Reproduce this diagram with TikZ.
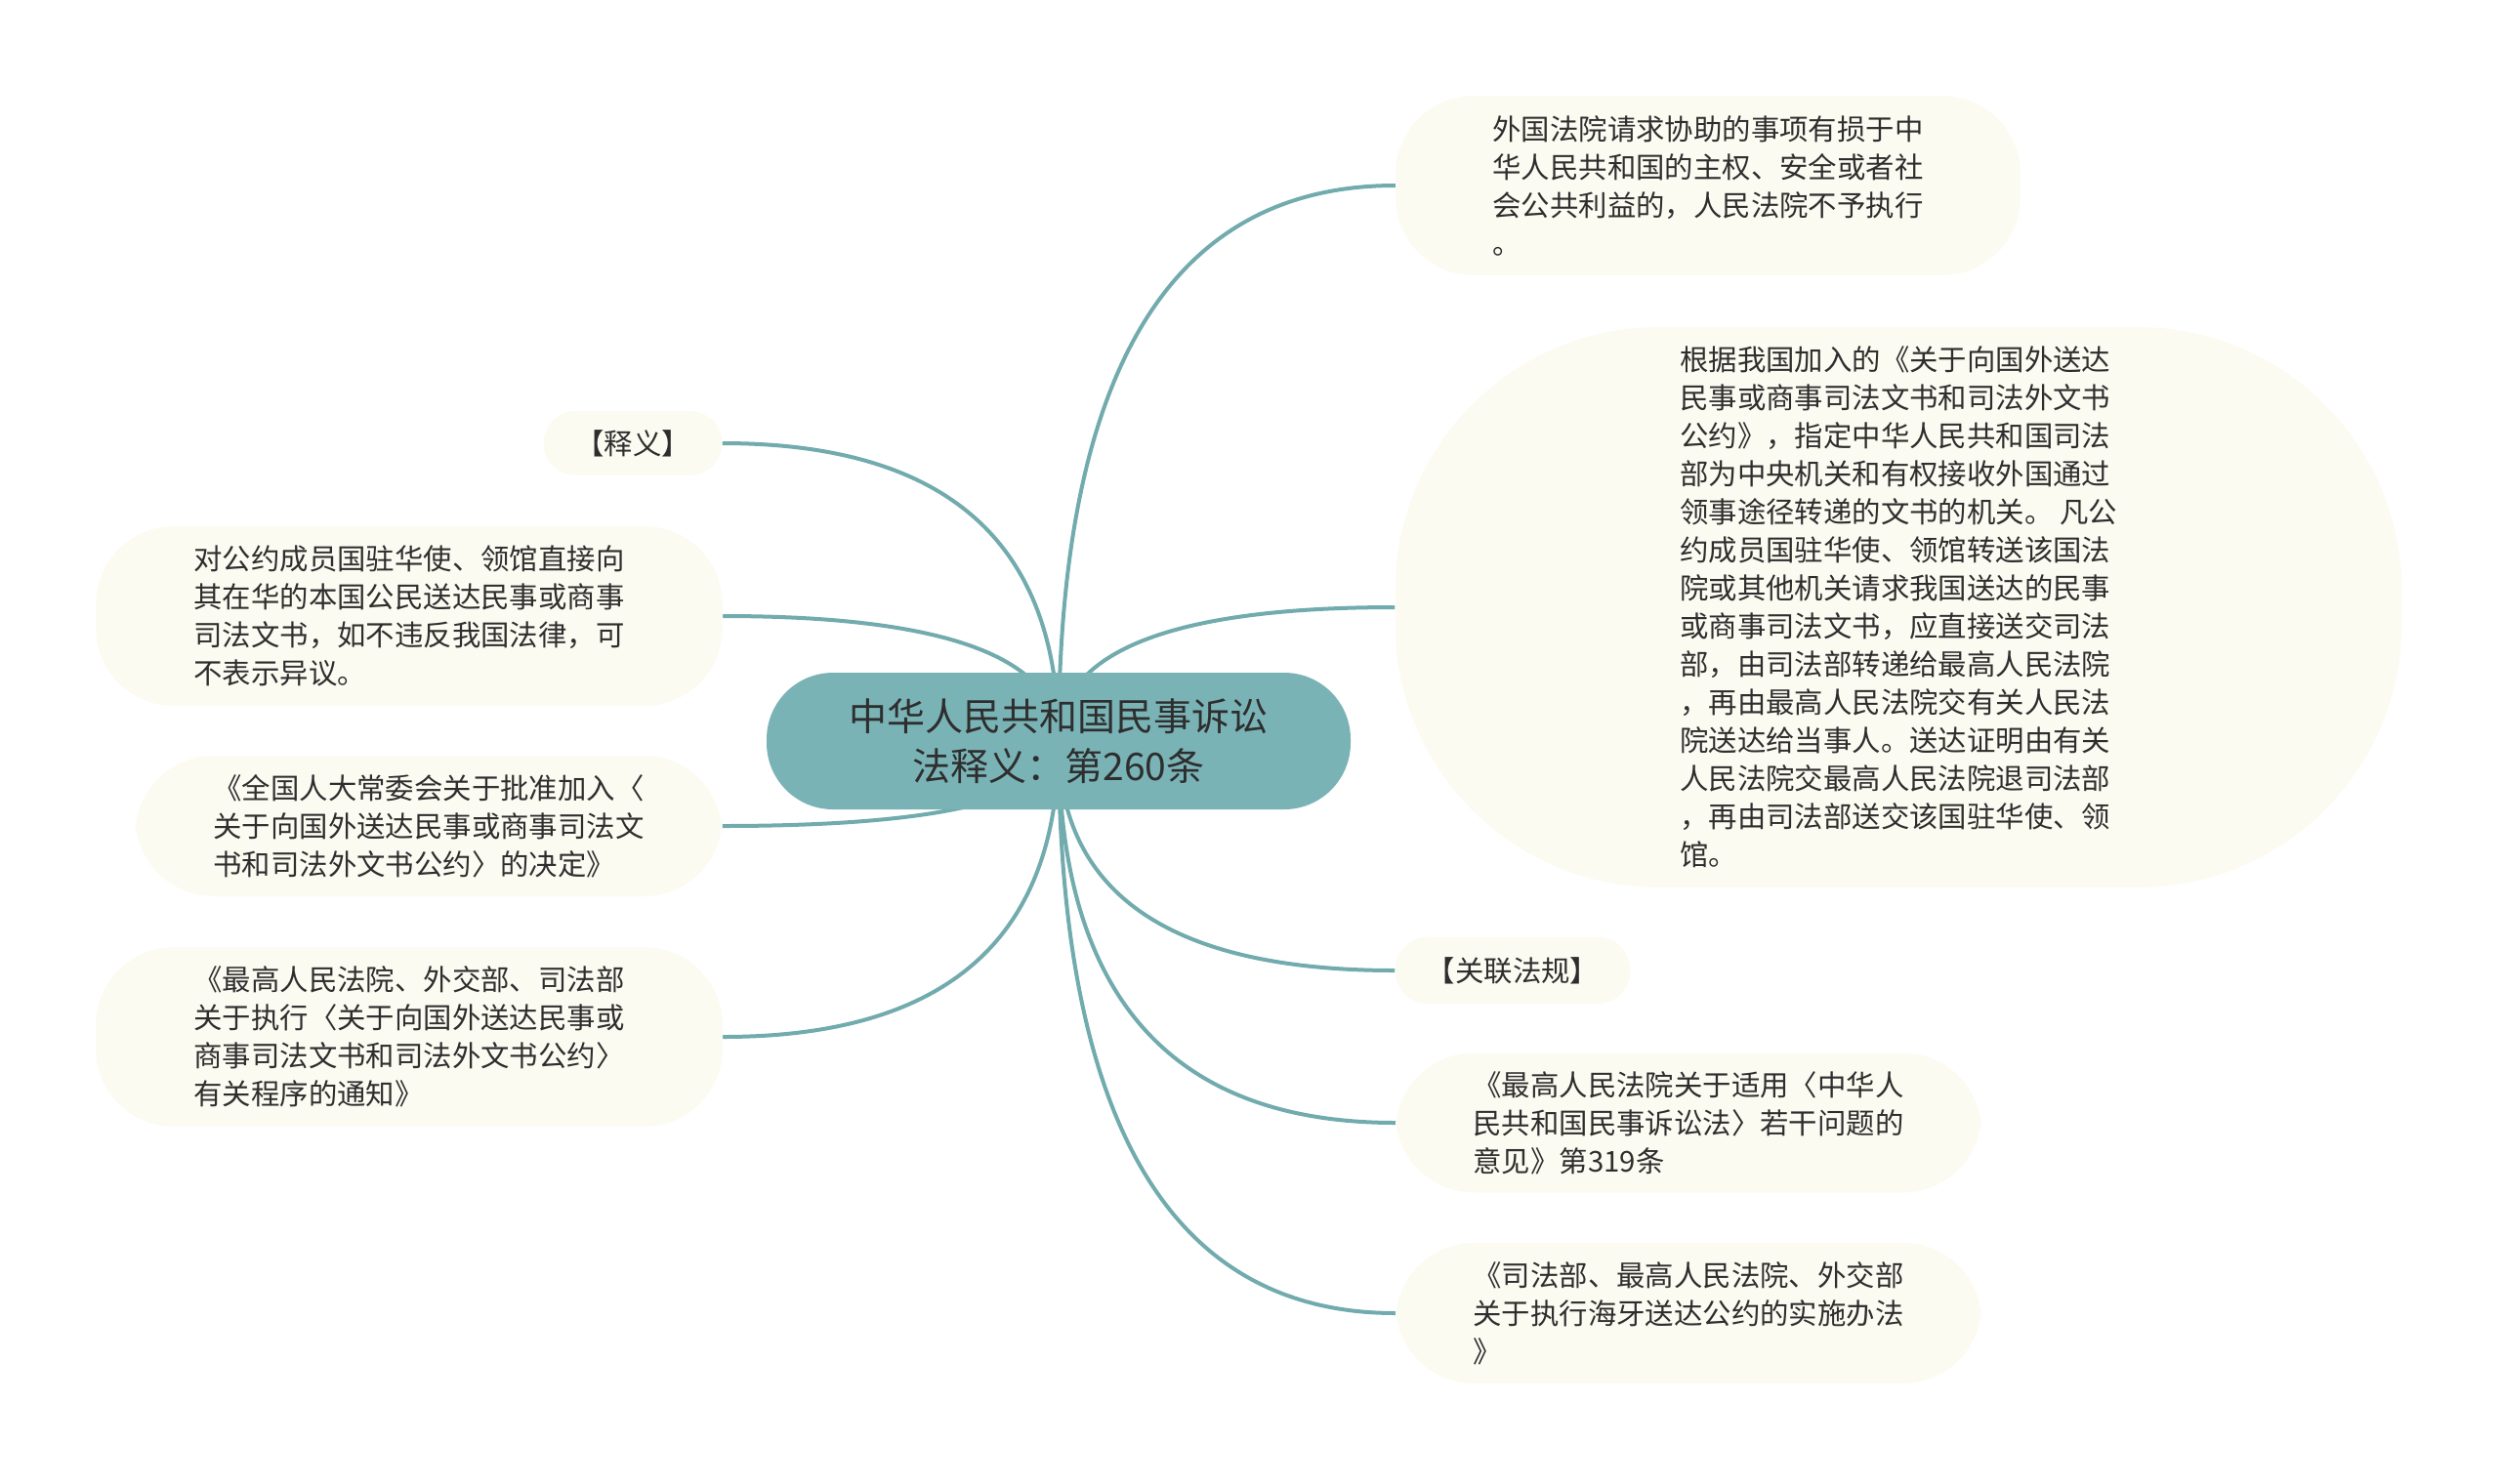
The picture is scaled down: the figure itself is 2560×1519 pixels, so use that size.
\documentclass[tikz,border=0pt]{standalone}
\usepackage{fontspec}
\setmainfont{Noto Sans CJK SC}
\usetikzlibrary{calc,backgrounds}
\definecolor{rootfill}{HTML}{7AB3B6}
\definecolor{linkcol}{HTML}{72ABAD}
\definecolor{leaffill}{HTML}{FCFBF2}
\definecolor{textcol}{HTML}{2E2E2E}

\begin{document}
\begin{tikzpicture}[
    x=1pt, y=-1pt,
    root/.style={rectangle, fill=rootfill, rounded corners=68pt, minimum width=598pt, minimum height=140pt,
        align=center, text=textcol, font=\fontsize{39}{51}\selectfont},
    leaf/.style={rectangle, fill=leaffill, rounded corners=80pt, align=left, text=textcol,
        font=\fontsize{29.4}{39}\selectfont},
    link/.style={draw=linkcol, line width=4pt,
        to path={.. controls ($(\tikztostart)!0.667!(\tikztostart |- \tikztotarget)$)
                 and ($(\tikztotarget)!0.667!(\tikztostart |- \tikztotarget)$) .. (\tikztotarget)}}
]
    \useasboundingbox (0,0) rectangle (2560,1519);

    % Nodes
    \node[root] (root) at (1084, 759) {中华人民共和国民事诉讼\\法释义：第260条};

    \node[leaf, minimum width=640pt, minimum height=184pt] (refuse) at (1749, 190)
        {外国法院请求协助的事项有损于中\\华人民共和国的主权、安全或者社\\会公共利益的，人民法院不予执行\\。};
    \node[leaf, rounded corners=270pt, minimum width=1031pt, minimum height=574pt] (organ) at (1944, 622)
        {根据我国加入的《关于向国外送达\\民事或商事司法文书和司法外文书\\公约》，指定中华人民共和国司法\\部为中央机关和有权接收外国通过\\领事途径转递的文书的机关。 凡公\\约成员国驻华使、领馆转送该国法\\院或其他机关请求我国送达的民事\\或商事司法文书，应直接送交司法\\部，由司法部转递给最高人民法院\\，再由最高人民法院交有关人民法\\院送达给当事人。送达证明由有关\\人民法院交最高人民法院退司法部\\，再由司法部送交该国驻华使、领\\馆。};
    \node[leaf, rounded corners=34pt, minimum width=241pt, minimum height=69pt] (related) at (1549, 994)
        {【关联法规】};
    \node[leaf, minimum width=600pt, minimum height=143pt] (opinion) at (1729, 1150)
        {《最高人民法院关于适用〈中华人\\民共和国民事诉讼法〉若干问题的\\意见》第319条};
    \node[leaf, minimum width=600pt, minimum height=144pt] (hague) at (1729, 1345)
        {《司法部、最高人民法院、外交部\\关于执行海牙送达公约的实施办法\\》};

    \node[leaf, rounded corners=33pt, minimum width=183pt, minimum height=66pt] (gloss) at (648, 454)
        {【释义】};
    \node[leaf, minimum width=642pt, minimum height=184pt] (consul) at (419, 631)
        {对公约成员国驻华使、领馆直接向\\其在华的本国公民送达民事或商事\\司法文书，如不违反我国法律，可\\不表示异议。};
    \node[leaf, minimum width=601pt, minimum height=144pt] (npc) at (439, 846)
        {《全国人大常委会关于批准加入〈\\关于向国外送达民事或商事司法文\\书和司法外文书公约〉的决定》};
    \node[leaf, minimum width=642pt, minimum height=184pt] (notice) at (419, 1062)
        {《最高人民法院、外交部、司法部\\关于执行〈关于向国外送达民事或\\商事司法文书和司法外文书公约〉\\有关程序的通知》};

    % Connectors
    \begin{scope}[on background layer]
    \draw[link] (root.center) to (refuse.west);
    \draw[link] (root.center) to (organ.west);
    \draw[link] (root.center) to (related.west);
    \draw[link] (root.center) to (opinion.west);
    \draw[link] (root.center) to (hague.west);
    \draw[link] (root.center) to (gloss.east);
    \draw[link] (root.center) to (consul.east);
    \draw[link] (root.center) to (npc.east);
    \draw[link] (root.center) to (notice.east);
    \end{scope}
\end{tikzpicture}
\end{document}
